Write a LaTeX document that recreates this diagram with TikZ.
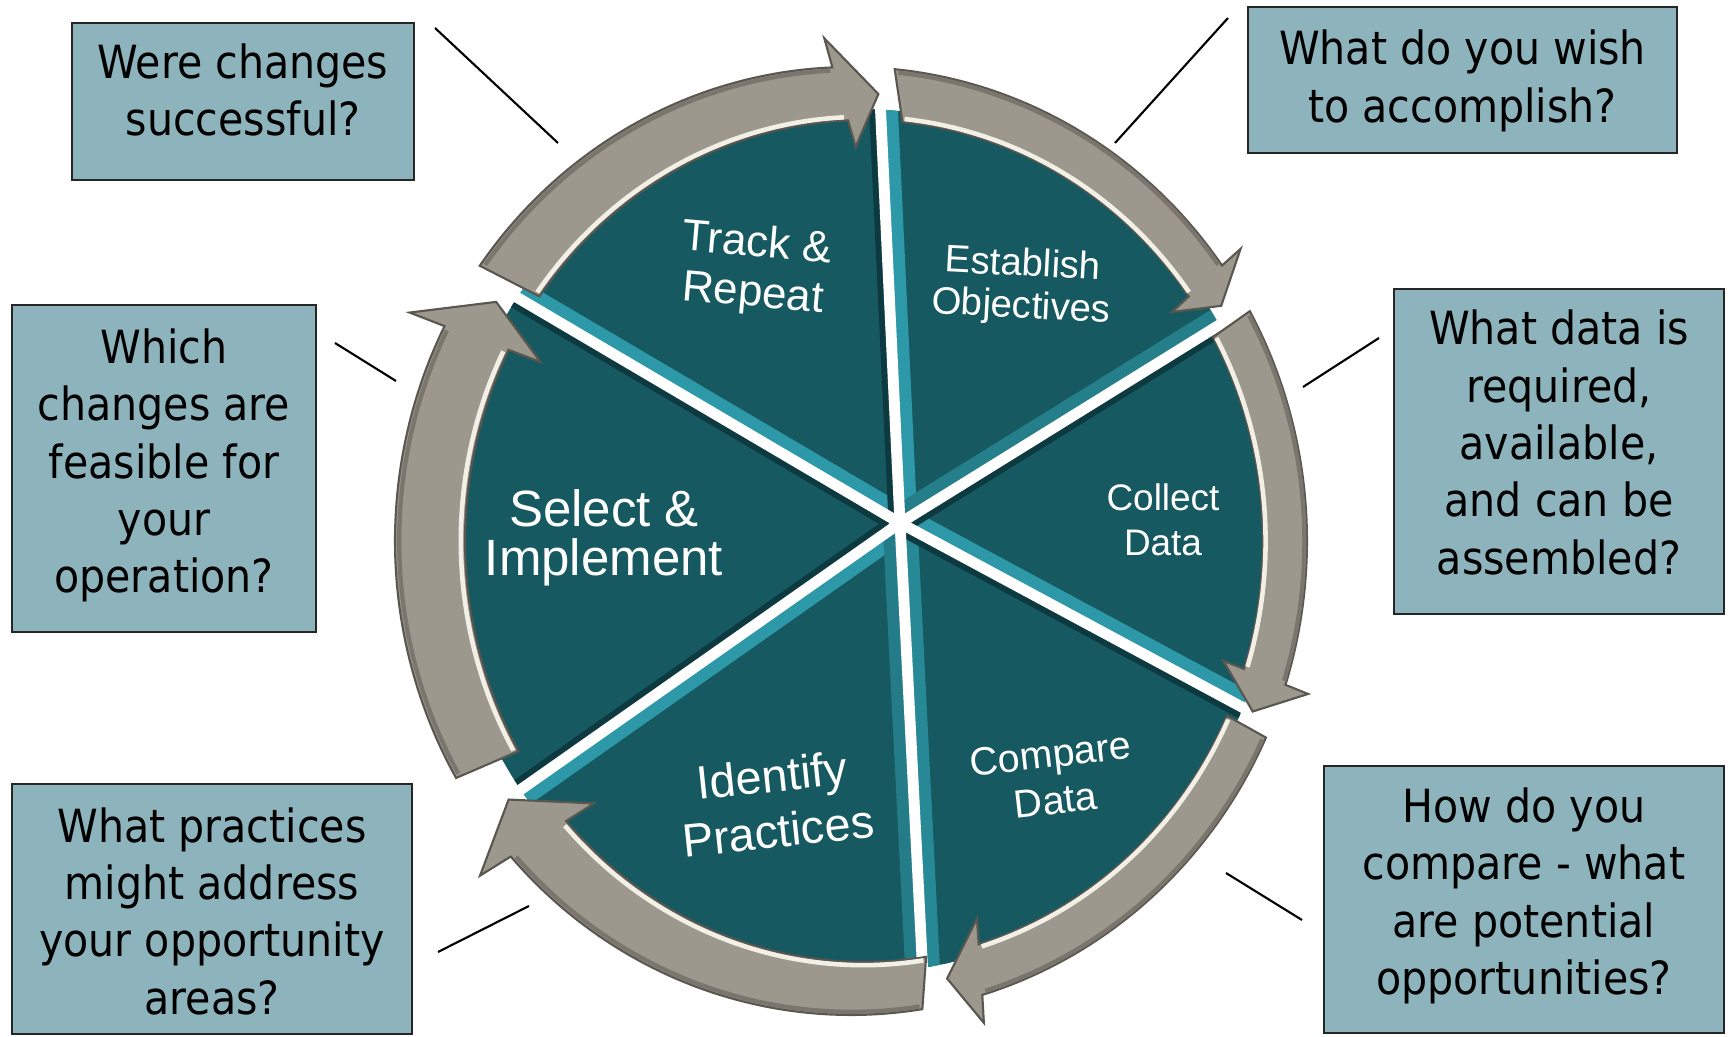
\documentclass[tikz,border=0pt]{standalone}
\usepackage{fontspec}
\setmainfont{Liberation Sans}
\newfontfamily\boxfont[FakeStretch=0.9]{DejaVu Sans}
\definecolor{wedgeC}{RGB}{23,89,97}
\definecolor{stripL}{RGB}{44,152,168}
\definecolor{stripD}{RGB}{12,58,64}
\definecolor{arrowC}{RGB}{156,152,141}
\definecolor{arrowHi}{RGB}{242,239,230}
\definecolor{arrowEdge}{RGB}{90,87,80}
\definecolor{arrowRim}{RGB}{122,118,109}
\definecolor{boxC}{RGB}{141,180,188}
\newcommand\wedgepiece[3]{%
 \begin{scope}
 \clip[shift={(900,523)}] (0,0) -- (#1:1000) -- ({(#1+#2)/2}:1000) -- (#2:1000) -- cycle;
 \clip plot[domain=0:360,samples=121] ({860+415*cos(\x)},{541+432*sin(\x)}) -- cycle;
 \fill[wedgeC] (0,0) rectangle (1729,1037);
 #3
 \end{scope}}
\newcommand\cyclearrow[3]{%
 \filldraw[arrowbody]
  plot[domain=0:1,samples=60] ({851+456*cos(#1+(#2-#1)*\x)},{541+474*sin(#1+(#2-#1)*\x)})
  -- ({843.85+487.35*cos(#2)},{541+503.15*sin(#2)})
  -- ({857.5+427.5*cos(#3)},{541+447.5*sin(#3)})
  -- ({870.5+370.5*cos(#2)},{541+394.5*sin(#2)})
  -- plot[domain=0:1,samples=60] ({864+399*cos(#2+(#1-#2)*\x)},{541+421*sin(#2+(#1-#2)*\x)})
  -- cycle;
 \draw[arrowrim] plot[domain=0:1,samples=60] ({851.8+452.6*cos(#1+0.4+(#2-#1-0.8)*\x)},{541+470.8*sin(#1+0.4+(#2-#1-0.8)*\x)});
 \draw[arrowhi] plot[domain=0:1,samples=60] ({863.2+402.4*cos(#1+0.4+(#2-#1-0.8)*\x)},{541+424.2*sin(#1+0.4+(#2-#1-0.8)*\x)});
}
\begin{document}
\begin{tikzpicture}[x=0.01cm,y=-0.01cm,
  gapline/.style={white,line width=3.1pt},
  lightstrip/.style={stripL,line width=9.9pt},
  darkstrip/.style={stripD,line width=6.5pt},
  arrowbody/.style={fill=arrowC,draw=arrowEdge,line width=0.6pt,line join=miter},
  arrowhi/.style={draw=arrowHi,line width=1.3pt},
  arrowrim/.style={draw=arrowRim,line width=1.2pt},
  qbox/.style={draw=black!85,line width=0.6pt,fill=boxC,inner sep=0pt},
  qtext/.style={font=\boxfont\fontsize{13}{16.3}\selectfont,align=center,text=black,inner sep=0pt},
  steptext/.style={text=white,align=center,inner sep=0pt},
  leader/.style={draw=black,line width=0.6pt}]
\useasboundingbox (0,0) rectangle (1729,1037);

% wedges
\wedgepiece{144.9}{210.5}{\draw[darkstrip] (900,523) -- ++(210.5:1000); \draw[darkstrip] (900,523) -- ++(144.9:1000);}
\wedgepiece{210.5}{267.3}{\draw[lightstrip] (900,523) -- ++(210.5:1000); \draw[darkstrip] (900,523) -- ++(267.3:1000);}
\wedgepiece{267.3}{328.2}{\draw[lightstrip] (900,523) -- ++(267.3:1000); \draw[lightstrip,stripL!60!wedgeC] (900,523) -- ++(328.2:1000);}
\wedgepiece{328.2}{388.3}{\draw[lightstrip] (900,523) -- ++(28.3:1000); \draw[darkstrip] (900,523) -- ++(328.2:1000);}
\wedgepiece{28.3}{87.1}{\draw[lightstrip,stripL!75!wedgeC] (900,523) -- ++(87.1:1000); \draw[darkstrip] (900,523) -- ++(28.3:1000);}
\wedgepiece{87.1}{144.9}{\draw[lightstrip] (900,523) -- ++(144.9:1000); \draw[lightstrip,stripL!55!wedgeC] (900,523) -- ++(87.1:1000);}

% gaps
\foreach \a in {144.9,210.5,267.3,328.2,28.3,87.1}
  \draw[gapline] (900,523) -- ++(\a:500);
\fill[white] (900,523) circle[radius=0.11cm];

% arrows
\cyclearrow{215.5}{267.7}{272.8}
\cyclearrow{275.5}{324.5}{328.3}
\cyclearrow{331}{377.7}{382.4}
\cyclearrow{24.5}{73.3}{77.9}
\cyclearrow{81}{138.3}{144.7}
\cyclearrow{150}{207}{212.3}

% step labels
\node[steptext,rotate=-5,font=\fontsize{12.5}{14.2}\selectfont] (sTrack) at (755,270) {Track \&\\Repeat};
\node[steptext,rotate=-3,font=\fontsize{10.9}{12}\selectfont] (sEstab) at (1022,287) {Establish\\Objectives};
\node[steptext,font=\fontsize{10.5}{12.8}\selectfont] (sCollect) at (1163,520) {Collect\\Data};
\node[steptext,rotate=6.5,font=\fontsize{11.2}{13.2}\selectfont] (sCompare) at (1053,777) {Compare\\Data};
\node[steptext,rotate=6,font=\fontsize{13.3}{15.8}\selectfont] (sIdent) at (775,803) {Identify\\Practices};
\node[steptext,font=\fontsize{14.5}{13.9}\selectfont] (sSelect) at (604,538) {Select \&\\Implement};

% question boxes
\node[qbox,minimum width=3.42cm,minimum height=1.57cm] (b1) at (243,101.5) {};
\node[qbox,minimum width=4.29cm,minimum height=1.46cm] (b2) at (1462.5,80) {};
\node[qbox,minimum width=3.04cm,minimum height=3.27cm] (b3) at (164,468.5) {};
\node[qbox,minimum width=3.30cm,minimum height=3.25cm] (b4) at (1559,451.5) {};
\node[qbox,minimum width=4.00cm,minimum height=2.50cm] (b5) at (212,909) {};
\node[qbox,minimum width=4.00cm,minimum height=2.67cm] (b6) at (1524,899.5) {};

\node[qtext] (q1) at (243,90) {Were changes\\successful?};
\node[qtext] (q2) at (1462.5,81) {What do you wish\\to accomplish?};
\node[qtext] (q3) at (164,465.5) {Which\\changes are\\feasible for\\your\\operation?};
\node[qtext] (q4) at (1559,442.5) {What data is\\required,\\available,\\and can be\\assembled?};
\node[qtext] (q5) at (212,911) {What practices\\might address\\your opportunity\\areas?};
\node[qtext] (q6) at (1524,896) {How do you\\compare - what\\are potential\\opportunities?};

% leader lines
\coordinate (l1a) at (435,28);   \coordinate (l1b) at (558,143);
\coordinate (l2a) at (1228,18);  \coordinate (l2b) at (1115,143);
\coordinate (l3a) at (335,343);  \coordinate (l3b) at (396,381);
\coordinate (l4a) at (1379,338); \coordinate (l4b) at (1303,387);
\coordinate (l5a) at (438,952);  \coordinate (l5b) at (529,906);
\coordinate (l6a) at (1226,873); \coordinate (l6b) at (1302,920);
\draw[leader] (l1a) -- (l1b);
\draw[leader] (l2a) -- (l2b);
\draw[leader] (l3a) -- (l3b);
\draw[leader] (l4a) -- (l4b);
\draw[leader] (l5a) -- (l5b);
\draw[leader] (l6a) -- (l6b);
\end{tikzpicture}
\end{document}
